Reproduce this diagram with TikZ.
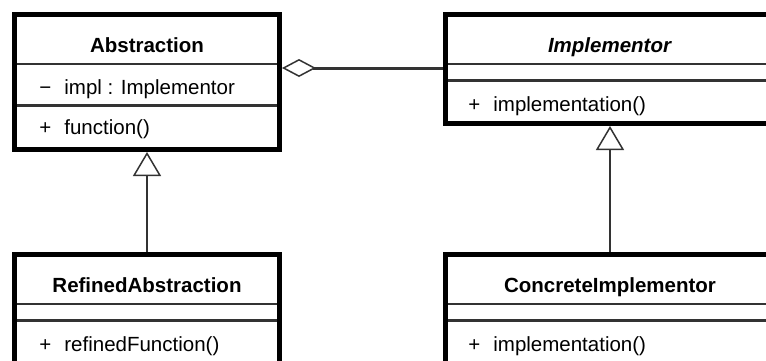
\documentclass[tikz,border=0pt]{standalone}
\usepackage{fontspec}
\setmainfont{Liberation Sans}
\usepackage{xcolor}
\usepackage{tikz}
\usetikzlibrary{arrows.meta, calc}
\definecolor{grisfonce}{RGB}{51, 51, 51}
\newcommand{\visib}[1]{\makebox[12.5pt][l]{#1}}

\begin{document}
\begin{tikzpicture}[x=0.5pt, y=-0.5pt, font=\fontsize{10.25}{12}\selectfont,
    classe/.style={draw=black, line width=2.5pt, rectangle, inner sep=0pt},
    sepfin/.style={draw=grisfonce, line width=1pt, shorten <=2.5pt, shorten >=2.5pt},
    sepepais/.style={draw=grisfonce, line width=1.5pt, shorten <=2.5pt, shorten >=2.5pt},
    titre/.style={anchor=base, inner sep=0pt, font=\fontsize{10.25}{12}\selectfont\bfseries},
    membre/.style={anchor=base west, inner sep=0pt},
    heritage/.style={draw=grisfonce, line width=1.25pt, -{Triangle[fill=white, length=12pt, width=14pt, line width=0.75pt]}},
    agregation/.style={draw=grisfonce, line width=1.5pt, {Diamond[fill=white, length=17pt, width=9pt, line width=0.75pt]}-}]
    \useasboundingbox (0,0) rectangle (766,360);
    \fill[white] (0,0) rectangle (766,360);
    \clip (0,0) rectangle (766,360);

    % classes
    \node[classe, minimum width=132.5pt, minimum height=67.5pt] (abs) at (147,82) {};
    \node[classe, minimum width=164.5pt, minimum height=54.5pt] (impl) at (610,69) {};
    \node[classe, minimum width=132.5pt, minimum height=55pt] (refabs) at (147,309.5) {};
    \node[classe, minimum width=164.5pt, minimum height=55pt] (concimpl) at (610,309.5) {};

    % compartiments
    \draw[sepfin] ($(abs.north west)+(0,51.5)$) -- ($(abs.north east)+(0,51.5)$);
    \draw[sepepais] ($(abs.north west)+(0,93.5)$) -- ($(abs.north east)+(0,93.5)$);
    \draw[sepfin] ($(impl.north west)+(0,51.5)$) -- ($(impl.north east)+(0,51.5)$);
    \draw[sepepais] ($(impl.north west)+(0,68)$) -- ($(impl.north east)+(0,68)$);
    \draw[sepfin] ($(refabs.north west)+(0,51.5)$) -- ($(refabs.north east)+(0,51.5)$);
    \draw[sepepais] ($(refabs.north west)+(0,68.5)$) -- ($(refabs.north east)+(0,68.5)$);
    \draw[sepfin] ($(concimpl.north west)+(0,51.5)$) -- ($(concimpl.north east)+(0,51.5)$);
    \draw[sepepais] ($(concimpl.north west)+(0,68.5)$) -- ($(concimpl.north east)+(0,68.5)$);

    % textes
    \node[titre] (abs-titre) at (147,52) {Abstraction};
    \node[membre] (abs-attr) at (39,94.5) {\visib{−}impl : Implementor};
    \node[membre] (abs-op) at (39,134) {\visib{+}function()};
    \node[titre] (impl-titre) at (610,52) {\textit{Implementor}};
    \node[membre] (impl-op) at (468,111) {\visib{+}implementation()};
    \node[titre] (refabs-titre) at (147,292) {RefinedAbstraction};
    \node[membre] (refabs-op) at (39,351.5) {\visib{+}refinedFunction()};
    \node[titre] (concimpl-titre) at (610,292) {ConcreteImplementor};
    \node[membre] (concimpl-op) at (468,351.5) {\visib{+}implementation()};

    % relations
    \draw[agregation] ($(abs.north east)+(0,56)$) -- ($(impl.north west)+(0,56)$);
    \draw[heritage] (refabs.north) -- (abs.south);
    \draw[heritage] (concimpl.north) -- (impl.south);
\end{tikzpicture}
\end{document}
